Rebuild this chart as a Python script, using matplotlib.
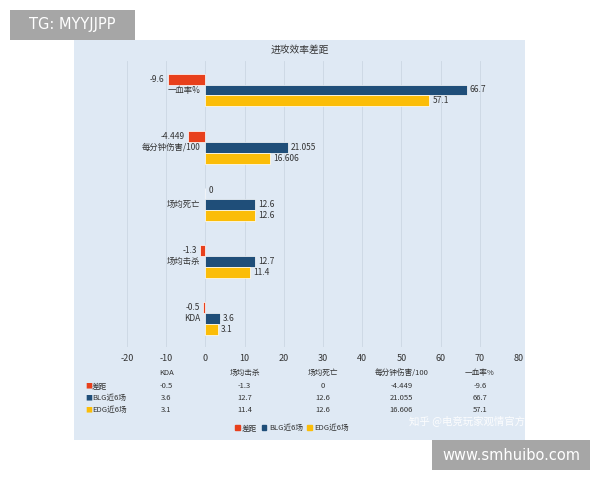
import matplotlib
matplotlib.use("Agg")
import matplotlib.pyplot as plt
from matplotlib.patches import Rectangle
from matplotlib.transforms import blended_transform_factory

plt.rcParams['font.family'] = ['Noto Sans CJK SC', 'DejaVu Sans']

categories = ['一血率%', '每分钟伤害/100', '场均死亡', '场均击杀', 'KDA']
gap = [-9.6, -4.449, 0, -1.3, -0.5]
blg = [66.7, 21.055, 12.6, 12.7, 3.6]
edg = [57.1, 16.606, 12.6, 11.4, 3.1]
series_names = ['差距', 'BLG近6场', 'EDG近6场']
xticks = [-20, -10, 0, 10, 20, 30, 40, 50, 60, 70, 80]

RED = '#e8401c'
BLUE = '#1f4e79'
GOLD = '#fbbd08'
PANEL = '#dfe9f4'
TXT = '#333333'

W, H = 600, 480
fig = plt.figure(figsize=(6, 4.8), dpi=100)
fig.patch.set_facecolor('white')

# light blue chart panel
fig.patches.append(Rectangle((74 / W, 1 - 440 / H), 451 / W, 400 / H,
                             transform=fig.transFigure, facecolor=PANEL,
                             edgecolor='none', zorder=-5))

# bar axes: x -20..80 -> px 127..519, rows 57.2 px apart
ax = fig.add_axes([127 / W, 1 - 347.4 / H, 392 / W, 286 / H])
ax.set_zorder(2)
ax.set_facecolor('none')
ax.set_xlim(-20, 80)
ax.set_ylim(4.5, -0.5)
for s in ax.spines.values():
    s.set_visible(False)
ax.set_xticks(xticks)
ax.set_xticklabels([str(t) for t in xticks], fontsize=6.5, color=TXT)
ax.tick_params(axis='x', length=0, pad=5)
ax.set_yticks([])
ax.grid(axis='x', color='#cbd6e3', linewidth=0.6)
ax.set_axisbelow(True)

h = 0.19
ypos = list(range(len(categories)))
ax.barh([y - h for y in ypos], gap, height=h, color=RED, edgecolor='white', linewidth=0.5)
ax.barh(ypos, blg, height=h, color=BLUE, edgecolor='white', linewidth=0.5)
ax.barh([y + h for y in ypos], edg, height=h, color=GOLD, edgecolor='white', linewidth=0.5)

for y, cat, g, b, e in zip(ypos, categories, gap, blg, edg):
    if g < 0:
        ax.text(g - 0.8, y - h, f"{g:g}", ha='right', va='center', fontsize=6, color=TXT)
    else:
        ax.text(g + 0.8, y - h * 1.3, f"{g:g}", ha='left', va='center', fontsize=6, color=TXT)
    ax.text(b + 0.8, y, f"{b:g}", ha='left', va='center', fontsize=6, color=TXT)
    ax.text(e + 0.8, y + h, f"{e:g}", ha='left', va='center', fontsize=6, color=TXT)
    ax.text(-1.2, y, cat, ha='right', va='center', fontsize=6, color=TXT)

fig.text(300 / W, 1 - 50 / H, '进攻效率差距', ha='center', va='center', fontsize=7, color=TXT)

# data table under the axis
tr = blended_transform_factory(ax.transData, fig.transFigure)
table_cats = categories[::-1]
col_x = [-10 + 20 * j for j in range(len(table_cats))]
for x, cat in zip(col_x, table_cats):
    ax.text(x, 1 - 373 / H, cat, transform=tr, ha='center', va='center',
            fontsize=5.5, color=TXT, clip_on=False)
rows = [gap[::-1], blg[::-1], edg[::-1]]
row_y = [386, 398, 410]
for vals, name, col, yp in zip(rows, series_names, [RED, BLUE, GOLD], row_y):
    fig.text(85 / W, 1 - yp / H, '■', ha='left', va='center', fontsize=5, color=col)
    fig.text(92 / W, 1 - yp / H, name, ha='left', va='center', fontsize=5.5, color=TXT)
    for x, v in zip(col_x, vals):
        ax.text(x, 1 - yp / H, f"{v:g}", transform=tr, ha='center', va='center',
                fontsize=5.5, color=TXT, clip_on=False)

# legend
handles = [Rectangle((0, 0), 1, 1, color=c) for c in [RED, BLUE, GOLD]]
fig.legend(handles, series_names, loc='center', bbox_to_anchor=(292 / W, 1 - 428 / H),
           ncol=3, fontsize=5.5, frameon=False, handlelength=0.6, handleheight=0.6,
           handletextpad=0.3, columnspacing=0.6, labelcolor=TXT)

# watermark
fig.text(467 / W, 1 - 421 / H, '知乎 @电竞玩家观情官方', ha='center', va='center',
         fontsize=7.5, color='white', alpha=0.9, zorder=1)

# corner tags
fig.patches.append(Rectangle((10 / W, 1 - 40 / H), 125 / W, 30 / H,
                             transform=fig.transFigure, facecolor='#a6a6a6',
                             edgecolor='none', zorder=3))
fig.text(72 / W, 1 - 25 / H, 'TG: MYYJJPP', ha='center', va='center',
         fontsize=10.5, color='white', family='DejaVu Sans', zorder=4)
fig.patches.append(Rectangle((432 / W, 1 - 470 / H), 158 / W, 30 / H,
                             transform=fig.transFigure, facecolor='#a6a6a6',
                             edgecolor='none', zorder=3))
fig.text(511 / W, 1 - 455 / H, 'www.smhuibo.com', ha='center', va='center',
         fontsize=10.5, color='white', family='DejaVu Sans', zorder=4)

fig.savefig('out.png', dpi=100)
